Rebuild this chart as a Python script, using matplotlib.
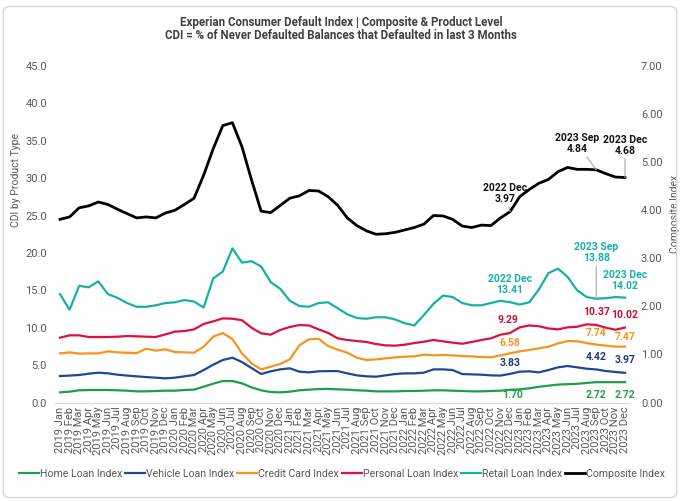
import matplotlib.pyplot as plt
from matplotlib.patches import FancyBboxPatch

plt.rcParams['font.family'] = ['Roboto', 'DejaVu Sans']

years = ['2019', '2020', '2021', '2022', '2023']
months = ['Jan', 'Feb', 'Mar', 'Apr', 'May', 'Jun',
          'Jul', 'Aug', 'Sep', 'Oct', 'Nov', 'Dec']
labels = [f'{y} {m}' for y in years for m in months]

home = [1.36, 1.45, 1.63, 1.67, 1.67, 1.67, 1.63, 1.58, 1.49, 1.49, 1.54, 1.58,
        1.58, 1.67, 1.72, 2.12, 2.52, 2.87, 2.87, 2.56, 2.03, 1.63, 1.40, 1.36,
        1.45, 1.63, 1.72, 1.80, 1.82, 1.76, 1.72, 1.63, 1.58, 1.49, 1.49, 1.49,
        1.54, 1.54, 1.58, 1.63, 1.63, 1.58, 1.54, 1.49, 1.49, 1.54, 1.58, 1.70,
        1.76, 1.90, 2.10, 2.25, 2.40, 2.45, 2.50, 2.62, 2.72, 2.72, 2.72, 2.72]
vehicle = [3.54, 3.60, 3.68, 3.85, 3.99, 3.90, 3.72, 3.60, 3.50, 3.40, 3.32, 3.23,
           3.32, 3.50, 3.68, 4.34, 5.06, 5.68, 5.99, 5.41, 4.61, 3.81, 4.17, 4.43,
           4.57, 4.12, 4.03, 4.17, 4.20, 4.20, 3.90, 3.63, 3.50, 3.45, 3.63, 3.81,
           3.90, 3.90, 3.99, 4.43, 4.43, 4.34, 3.81, 3.76, 3.72, 3.63, 3.60, 3.83,
           4.12, 4.17, 4.03, 4.34, 4.70, 4.88, 4.70, 4.52, 4.42, 4.21, 4.08, 3.97]
credit = [6.57, 6.71, 6.53, 6.57, 6.57, 6.84, 6.71, 6.66, 6.60, 7.20, 6.93, 7.11,
          6.75, 6.71, 6.66, 7.46, 8.80, 9.29, 8.49, 6.57, 5.24, 4.43, 4.79, 5.15,
          5.77, 7.64, 8.45, 8.53, 7.55, 7.06, 6.66, 5.99, 5.68, 5.77, 5.90, 6.04,
          6.13, 6.17, 6.40, 6.30, 6.35, 6.30, 6.22, 6.17, 6.08, 6.04, 6.30, 6.58,
          6.84, 7.02, 7.24, 7.46, 7.91, 8.22, 8.18, 7.95, 7.74, 7.60, 7.47, 7.47]
personal = [8.67, 8.98, 8.98, 8.76, 8.76, 8.76, 8.80, 8.89, 8.85, 8.80, 8.76, 9.10,
            9.47, 9.56, 9.78, 10.5, 10.85, 11.25, 11.2, 11.0, 10.0, 9.25, 9.07, 9.70,
            10.1, 10.36, 10.3, 9.78, 9.30, 8.58, 8.36, 8.22, 8.09, 7.82, 7.64, 7.60,
            7.73, 7.95, 8.13, 8.36, 8.18, 8.00, 7.86, 8.09, 8.36, 8.58, 9.07, 9.29,
            10.05, 10.3, 10.2, 9.90, 9.78, 10.05, 10.13, 10.45, 10.37, 10.0, 9.73, 10.02]
retail = [14.5, 12.4, 15.6, 15.4, 16.2, 14.5, 14.0, 13.3, 12.8, 12.8, 13.0, 13.3,
          13.4, 13.7, 13.5, 12.7, 16.6, 17.5, 20.6, 18.7, 18.9, 18.2, 16.1, 15.2,
          13.6, 12.9, 12.8, 13.3, 13.4, 12.6, 11.8, 11.3, 11.2, 11.4, 11.4, 11.1,
          10.6, 10.3, 11.7, 13.2, 14.3, 14.1, 13.3, 13.0, 13.0, 13.3, 13.6, 13.41,
          13.1, 13.4, 15.1, 17.3, 17.9, 16.8, 15.0, 14.1, 13.88, 13.95, 14.1, 14.02]
composite = [3.81, 3.86, 4.05, 4.09, 4.17, 4.12, 4.02, 3.93, 3.84, 3.86, 3.84, 3.94,
             4.00, 4.12, 4.25, 4.73, 5.28, 5.76, 5.82, 5.32, 4.63, 3.98, 3.95, 4.10,
             4.25, 4.30, 4.41, 4.40, 4.28, 4.10, 3.84, 3.68, 3.57, 3.50, 3.51, 3.54,
             3.59, 3.64, 3.71, 3.89, 3.88, 3.81, 3.67, 3.64, 3.69, 3.68, 3.84, 3.97,
             4.28, 4.43, 4.56, 4.64, 4.80, 4.89, 4.85, 4.85, 4.84, 4.76, 4.69, 4.68]

# colours
c_home = '#1f9e4a'
c_vehicle = '#1f4796'
c_credit = '#f7941d'
c_personal = '#e0103c'
c_retail = '#17b0a7'
c_comp = '#000000'
grey = '#595959'

x = list(range(len(labels)))

fig = plt.figure(figsize=(6.8, 5.01), dpi=100)
ax = fig.add_axes([0.0812, 0.1966, 0.845, 0.6717])
ax2 = ax.twinx()

ax.plot(x, home, color=c_home, lw=1.6, label='Home Loan Index')
ax.plot(x, vehicle, color=c_vehicle, lw=1.6, label='Vehicle Loan Index')
ax.plot(x, credit, color=c_credit, lw=1.6, label='Credit Card Index')
ax.plot(x, personal, color=c_personal, lw=1.6, label='Personal Loan Index')
ax.plot(x, retail, color=c_retail, lw=1.6, label='Retail Loan Index')
ax2.plot(x, composite, color=c_comp, lw=2.0, label='Composite Index')

ax.set_xlim(-0.5, len(x) - 0.5)
ax.set_ylim(0, 45)
ax2.set_ylim(0, 7)
ax.set_yticks([0, 5, 10, 15, 20, 25, 30, 35, 40, 45])
ax.set_yticklabels([f'{v:.1f}' for v in ax.get_yticks()])
ax2.set_yticks([0, 1, 2, 3, 4, 5, 6, 7])
ax2.set_yticklabels([f'{v:.2f}' for v in ax2.get_yticks()])
ax.set_xticks(x)
ax.set_xticklabels(labels, rotation=90, fontsize=7.5, color=grey)

for a in (ax, ax2):
    for s in a.spines.values():
        s.set_visible(False)
    a.tick_params(length=0, colors=grey, labelsize=8)
ax.spines['bottom'].set_visible(True)
ax.spines['bottom'].set_color('#d9d9d9')
ax.tick_params(axis='x', pad=3)
ax.tick_params(axis='y', pad=6)
ax2.tick_params(axis='y', pad=8)

ax.set_ylabel('CDI by Product Type', fontsize=7.5, color=grey)
ax.yaxis.set_label_coords(-0.06, 0.66)
ax2.set_ylabel('Composite Index', fontsize=7.5, color=grey)
ax2.yaxis.set_label_coords(1.07, 0.56)

fig.text(0.502, 0.955, 'Experian Consumer Default Index | Composite & Product Level',
         ha='center', va='center', fontsize=8.3, color='#404040', fontweight='bold')
fig.text(0.502, 0.929, 'CDI = % of Never Defaulted Balances that Defaulted in last 3 Months',
         ha='center', va='center', fontsize=8.3, color='#404040', fontweight='bold')

# value labels (offsets in pixels, converted to points)
def note(a, i, series, txt, color, dx, dy, leader=False):
    kw = {}
    if leader:
        kw['arrowprops'] = dict(arrowstyle='-', color='#a6a6a6', lw=0.8,
                                shrinkA=0, shrinkB=0)
    a.annotate(txt, xy=(i, series[i]), xytext=(dx * 0.72, dy * 0.72),
               textcoords='offset points', ha='center', va='center',
               fontsize=7.5, fontweight='bold', color=color, linespacing=1.1, **kw)

note(ax2, 47, composite, '2022 Dec\n3.97', '#111111', -5, 18, True)
note(ax2, 56, composite, '2023 Sep\n4.84', '#111111', -19, 26, True)
note(ax2, 59, composite, '2023 Dec\n4.68', '#111111', 0, 32, True)

note(ax, 47, retail, '2022 Dec\n13.41', c_retail, 0, 18)
note(ax, 56, retail, '2023 Sep\n13.88', c_retail, 0, 46, True)
note(ax, 59, retail, '2023 Dec\n14.02', c_retail, 0, 17)

note(ax, 47, personal, '9.29', '#c8102e', -2, 13)
note(ax, 56, personal, '10.37', '#c8102e', 0, 13)
note(ax, 59, personal, '10.02', '#c8102e', 0, 13)

note(ax, 47, credit, '6.58', c_credit, 0, 10)
note(ax, 56, credit, '7.74', c_credit, 0, 12)
note(ax, 59, credit, '7.47', c_credit, 0, 10)

note(ax, 47, vehicle, '3.83', '#1f3c7a', 0, 11)
note(ax, 56, vehicle, '4.42', '#1f3c7a', 0, 12)
note(ax, 59, vehicle, '3.97', '#1f3c7a', 0, 13)

note(ax, 47, home, '1.70', c_home, 2, -5)
note(ax, 56, home, '2.72', c_home, 0, -13)
note(ax, 59, home, '2.72', c_home, 0, -13)

h1, l1 = ax.get_legend_handles_labels()
h2, l2 = ax2.get_legend_handles_labels()
leg = fig.legend(h1 + h2, l1 + l2, loc='center', bbox_to_anchor=(0.503, 0.054),
                 ncol=6, frameon=False, fontsize=7.6, handlelength=1.9,
                 handletextpad=0.1, columnspacing=0.25)
for t in leg.get_texts():
    t.set_color(grey)

border = FancyBboxPatch((0.005, 0.007), 0.99, 0.98, transform=fig.transFigure,
                        boxstyle='round,pad=0,rounding_size=0.01',
                        facecolor='none', edgecolor='#d9d9d9', lw=1.0)
fig.patches.append(border)

fig.savefig('out.png', dpi=100)
